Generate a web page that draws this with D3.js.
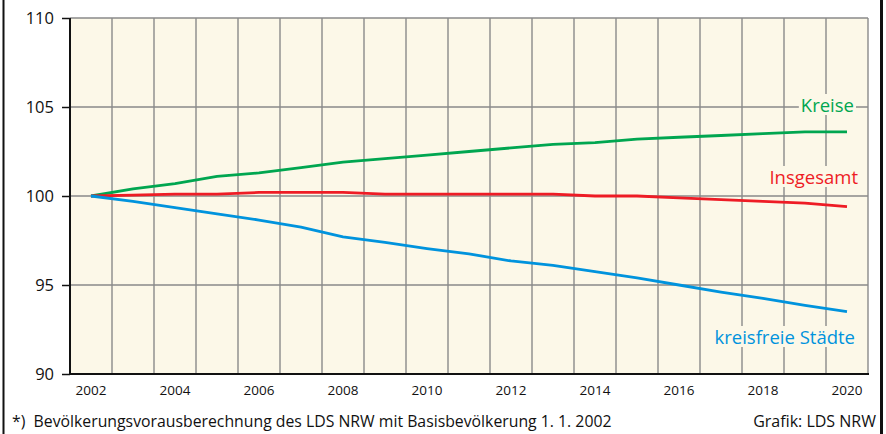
<!DOCTYPE html>
<html><head><meta charset="utf-8">
<script src="https://cdn.jsdelivr.net/npm/d3@7"></script>
<style>
html,body{margin:0;padding:0;background:#fff;}
svg{display:block;font-family:"Open Sans","Noto Sans",sans-serif;}
</style></head>
<body>
<svg id="chart" width="886" height="434"></svg>
<script>
const years = [2002,2003,2004,2005,2006,2007,2008,2009,2010,2011,2012,2013,2014,2015,2016,2017,2018,2019,2020];
const kreise    = [100,100.4,100.7,101.1,101.3,101.6,101.9,102.1,102.3,102.5,102.7,102.9,103.0,103.2,103.3,103.4,103.5,103.6,103.6];
const insgesamt = [100,100.05,100.1,100.1,100.2,100.2,100.2,100.1,100.1,100.1,100.1,100.1,100.0,100.0,99.9,99.8,99.7,99.6,99.4];
const staedte   = [100,99.7,99.35,99.0,98.65,98.25,97.7,97.4,97.05,96.75,96.35,96.1,95.75,95.4,95.0,94.6,94.25,93.85,93.5];
const seriesNames = ["Kreise","Insgesamt","kreisfreie Städte"];
const yTicks = [90,95,100,105,110];
const xTickLabels = [2002,2004,2006,2008,2010,2012,2014,2016,2018,2020];
const footnote = "*)  Bevölkerungsvorausberechnung des LDS NRW mit Basisbevölkerung 1. 1. 2002";
const credit = "Grafik: LDS NRW";

const svg = d3.select("#chart");
const L = 70, R = 868, T = 18, B = 374;
const x = d3.scaleBand().domain(years).range([L, R]).padding(0);
const xc = d => x(d) + x.bandwidth()/2;
const y = d3.scaleLinear().domain([90,110]).range([B, T]);

// frame lines
svg.append("rect").attr("x",2.5).attr("y",0).attr("width",2).attr("height",434).attr("fill","#111");
svg.append("rect").attr("x",880).attr("y",0).attr("width",3).attr("height",434).attr("fill","#111");

// plot background
svg.append("rect").attr("x",L).attr("y",T).attr("width",R-L).attr("height",B-T).attr("fill","#fcf8e8");

const grid = svg.append("g").attr("stroke","#8a8a8a").attr("stroke-width",1.4);
years.slice(1).forEach(d => grid.append("line").attr("x1",x(d)).attr("x2",x(d)).attr("y1",T).attr("y2",B));
[95,100,105].forEach(v => grid.append("line").attr("x1",L).attr("x2",R).attr("y1",y(v)).attr("y2",y(v)));
grid.append("line").attr("x1",R).attr("x2",R).attr("y1",T).attr("y2",B);
grid.append("line").attr("x1",L).attr("x2",R).attr("y1",T).attr("y2",T);

// y axis
const yAxis = d3.axisLeft(y).tickValues(yTicks).tickSize(8).tickPadding(8);
const gy = svg.append("g").attr("transform",`translate(${L},0)`).call(yAxis);
gy.select(".domain").remove();
gy.selectAll(".tick line").attr("stroke","#111").attr("stroke-width",1.5);
gy.selectAll(".tick text").attr("font-size",16.5).attr("fill","#111").attr("font-family","Open Sans");
svg.append("line").attr("x1",L).attr("x2",L).attr("y1",T).attr("y2",B+1).attr("stroke","#111").attr("stroke-width",2);

// x axis
const xAxis = d3.axisBottom(x).tickValues(xTickLabels).tickSize(0).tickPadding(11);
const gx = svg.append("g").attr("transform",`translate(0,${B})`).call(xAxis);
gx.select(".domain").remove();
gx.selectAll(".tick text").attr("font-size",13.5).attr("fill","#111").attr("font-family","Open Sans");
svg.append("line").attr("x1",L-1).attr("x2",R+1).attr("y1",B).attr("y2",B).attr("stroke","#111").attr("stroke-width",2);

// labels with background
const colors = ["#00a650","#ee1c25","#0093dd"];
const labelPos = [[854,112],[858,184],[855,344]];
const lg = svg.append("g");
seriesNames.forEach((n,i) => {
  const t = lg.append("text").attr("x",labelPos[i][0]).attr("y",labelPos[i][1]).attr("text-anchor","end")
    .attr("font-size",18.5).attr("fill",colors[i]).text(n);
  const bb = t.node().getBBox();
  lg.insert("rect","text").attr("x",bb.x-2).attr("y",bb.y+2).attr("width",bb.width+4).attr("height",bb.height-4).attr("fill","#fcf8e8");
});

// lines
const line = d3.line().x((d,i) => xc(years[i])).y(d => y(d));
[kreise, insgesamt, staedte].forEach((s,i) => {
  svg.append("path").datum(s).attr("d",line).attr("fill","none").attr("stroke",colors[i]).attr("stroke-width",2.8).attr("stroke-linejoin","round");
});

// footer
svg.append("text").attr("x",12).attr("y",427).attr("font-size",15.8).attr("fill","#111").attr("xml:space","preserve").text(footnote);
svg.append("text").attr("x",876).attr("y",427).attr("text-anchor","end").attr("font-size",16).attr("fill","#111").text(credit);
</script>
</body></html>
